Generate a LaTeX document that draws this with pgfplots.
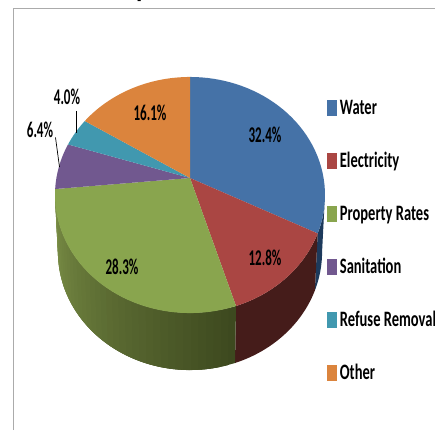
\documentclass[border=0pt]{standalone}
\usepackage{pgfplots}
\pgfplotsset{compat=1.18}
\usepackage{fontspec}
\setmainfont{Carlito}
\definecolor{waterblue}{HTML}{4572A7}
\definecolor{elecred}{HTML}{AA4643}
\definecolor{ratesgreen}{HTML}{89A54E}
\definecolor{sanpurple}{HTML}{71588F}
\definecolor{refuseteal}{HTML}{4198AF}
\definecolor{otherorange}{HTML}{DB843D}
\definecolor{framegray}{HTML}{ABABAB}
\definecolor{wallgreenA}{RGB}{60,72,30}
\definecolor{wallgreenB}{RGB}{125,145,72}
\definecolor{wallred}{HTML}{451C1A}
\definecolor{wallblue}{HTML}{1D3A5C}

% Perspective pie: a share of the whole (percent) is taken to a point on the rim
\newcommand\rimpoint[1]{%
  \pgfmathsetmacro\ang{3.6*#1}%
  \pgfmathsetmacro\den{1+0.1442*cos(\ang)}%
  \pgfmathsetmacro\rimx{190+133.6*sin(\ang)/\den}%
  \pgfmathsetmacro\rimy{178-115.6*cos(\ang)/\den}%
  \pgfmathsetmacro\lowx{190+130.7*sin(\ang)/\den}%
  \pgfmathsetmacro\lowy{\rimy+57}%
}
\newcommand\cumshare{0}
% Top face of one slice, from its share and colour
\newcommand\slice[2]{%
  \edef\pts{(190,178)}%
  \pgfplotsforeachungrouped \i in {0,...,40}{%
    \pgfmathsetmacro\sh{\cumshare+#1*\i/40}%
    \rimpoint{\sh}%
    \edef\pts{\pts (\rimx,\rimy)}%
  }%
  \edef\cmd{\noexpand\addplot[fill=#2,draw=none,forget plot] coordinates {\pts} -- cycle;}%
  \cmd
  \pgfmathsetmacro\newcum{\cumshare+#1}%
  \xdef\cumshare{\newcum}%
}
% Outer wall between two cumulative shares, one solid piece
\newcommand\solidwall[3]{%
  \edef\toppts{}\edef\botpts{}%
  \pgfplotsforeachungrouped \i in {0,...,24}{%
    \pgfmathsetmacro\sh{#1+(#2-#1)*\i/24}%
    \rimpoint{\sh}%
    \edef\toppts{\toppts (\rimx,\rimy)}%
    \edef\botpts{(\lowx,\lowy) \botpts}%
  }%
  \edef\cmd{\noexpand\addplot[fill=#3,draw=none,forget plot] coordinates {\toppts\botpts} -- cycle;}%
  \cmd
}
% Outer wall shaded from colour to colour; each strip runs on under the next
\newcommand\shadedwall[4]{%
  \pgfplotsforeachungrouped \i in {1,...,36}{%
    \pgfmathsetmacro\sa{#1+(#2-#1)*(\i-1)/36}%
    \pgfmathsetmacro\sb{#1+(#2-#1)*min(\i+2,36)/36}%
    \pgfmathsetmacro\sm{0.5*(\sa+\sb)}%
    \pgfmathsetmacro\mixp{100*(\i-0.5)/36}%
    \rimpoint{\sa}\edef\pa{(\rimx,\rimy)}\edef\pd{(\lowx,\lowy)}%
    \rimpoint{\sm}\edef\pe{(\rimx,\rimy)}\edef\pf{(\lowx,\lowy)}%
    \rimpoint{\sb}\edef\pb{(\rimx,\rimy)}\edef\pc{(\lowx,\lowy)}%
    \edef\cmd{\noexpand\addplot[fill=#4!\mixp!#3,draw=none,forget plot] coordinates {\pa\pe\pb\pc\pf\pd} -- cycle;}%
    \cmd
  }%
}
\newcommand\lab[1]{\scalebox{0.58}[1]{\fontsize{22.5}{22.5}\selectfont\bfseries #1}}
\newcommand\leg[1]{\scalebox{0.66}[1]{\fontsize{22}{22}\selectfont\bfseries #1\strut}}

\begin{document}
\begin{tikzpicture}
\path[use as bounding box,clip] (0,0) rectangle (435pt,430pt);
\begin{axis}[
  at={(0,0)},anchor=south west,
  scale only axis,width=435pt,height=430pt,
  xmin=0,xmax=435,ymin=0,ymax=430,y dir=reverse,
  axis lines=none,clip=false,
  legend style={at={(axis cs:327,97.5)},anchor=north west,draw=none,fill=none,
    inner sep=0pt,outer sep=0pt,row sep=32pt,column sep=1.5pt,
    cells={anchor=west},font=\normalsize},
  legend image code/.code={\fill[#1] (0pt,-7.5pt) rectangle (9pt,7.5pt);},
]
% frame of the chart area
\addplot[framegray,line width=1.2pt,forget plot] coordinates {(13.5,430)(13.5,8.5)(435,8.5)};
% walls
\solidwall{27.3}{32.4}{wallblue}
\solidwall{32.4}{45.2}{wallred}
\shadedwall{45.2}{73.5}{wallgreenA}{wallgreenB}
% top faces
\slice{32.4}{waterblue}
\slice{12.8}{elecred}
\slice{28.3}{ratesgreen}
\slice{6.4}{sanpurple}
\slice{4.0}{refuseteal}
\slice{16.1}{otherorange}
% leader lines
\addplot[black,line width=0.7pt,forget plot] coordinates {(76,111)(76,133)};
\addplot[black,line width=0.7pt,forget plot] coordinates {(55.5,137.5)(59.5,167)};
% data labels
\node at (axis cs:265,135) {\lab{32.4\%}};
\node at (axis cs:265,258) {\lab{12.8\%}};
\node at (axis cs:122,267) {\lab{28.3\%}};
\node at (axis cs:40,130) {\lab{6.4\%}};
\node at (axis cs:67,97) {\lab{4.0\%}};
\node at (axis cs:150,113) {\lab{16.1\%}};
% title, cut by the upper edge
\node[anchor=base] at (axis cs:143,-2) {\fontsize{26}{26}\selectfont\bfseries p};
\addlegendimage{waterblue}\addlegendentry{\leg{Water}}
\addlegendimage{elecred}\addlegendentry{\leg{Electricity}}
\addlegendimage{ratesgreen}\addlegendentry{\leg{Property Rates}}
\addlegendimage{sanpurple}\addlegendentry{\leg{Sanitation}}
\addlegendimage{refuseteal}\addlegendentry{\leg{Refuse Removal}}
\addlegendimage{otherorange}\addlegendentry{\leg{Other}}
\end{axis}
\end{tikzpicture}
\end{document}
